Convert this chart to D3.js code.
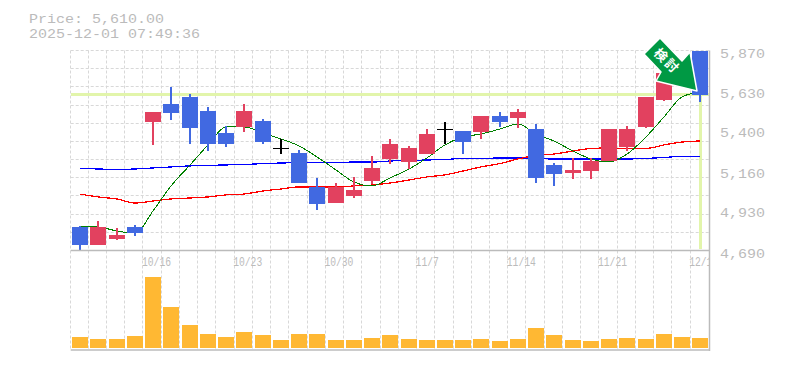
<!DOCTYPE html>
<html>
<head>
<meta charset="utf-8">
<script src="https://cdn.jsdelivr.net/npm/d3@7"></script>
<style>
  html, body { margin: 0; padding: 0; background: #fff; }
  svg { display: block; }
  text { font-family: "Liberation Mono", monospace; fill: #bbb; }
</style>
</head>
<body>
<script>
// values
const priceText = 'Price: 5,610.00';
const timeText = '2025-12-01 07:49:36';
const lastPrice = 5610;
const arrowText = '検討';

const priceTicks = [5870, 5630, 5400, 5160, 4930, 4690];
const dateTicks = [[4, '10/16'], [9, '10/23'], [14, '10/30'], [19, '11/7'], [24, '11/14'], [29, '11/21'], [34, '12/1']];

const opens = [4829, 4722, 4758, 4829, 5448, 5554, 5596, 5513, 5383, 5419, 5454, 5295, 5265, 5065, 4970, 5012, 5100, 5230, 5212, 5259, 5407, 5395, 5389, 5484, 5472, 5407, 5195, 5147, 5159, 5218, 5301, 5419, 5578, 5672, 5867];
const closes = [4722, 4829, 4782, 4793, 5507, 5501, 5413, 5318, 5318, 5513, 5330, 5295, 5088, 4964, 5065, 5047, 5177, 5318, 5295, 5377, 5407, 5330, 5484, 5448, 5507, 5118, 5141, 5165, 5218, 5407, 5407, 5596, 5737, 5790, 5610];
const highs = [4835, 4864, 4823, 4840, 5507, 5655, 5613, 5537, 5425, 5554, 5466, 5348, 5283, 5118, 5088, 5124, 5248, 5348, 5307, 5407, 5448, 5395, 5484, 5507, 5525, 5436, 5206, 5236, 5236, 5407, 5425, 5596, 5737, 5802, 5870];
const lows = [4689, 4722, 4752, 4776, 5312, 5460, 5318, 5277, 5301, 5389, 5318, 5259, 5088, 4929, 4970, 5000, 5082, 5200, 5171, 5259, 5318, 5259, 5348, 5419, 5413, 5088, 5071, 5112, 5112, 5218, 5277, 5413, 5572, 5672, 5566];

const maShort = [4832, 4829, 4805, 4793, 4923, 5071, 5194, 5313, 5419, 5419, 5383, 5348, 5307, 5242, 5165, 5094, 5071, 5118, 5171, 5236, 5313, 5360, 5377, 5407, 5436, 5377, 5336, 5277, 5230, 5212, 5259, 5360, 5478, 5596, 5625];
const maMid = [5023, 5006, 4994, 4970, 4982, 4994, 5000, 5006, 5018, 5023, 5041, 5053, 5065, 5065, 5065, 5071, 5076, 5088, 5106, 5124, 5136, 5159, 5183, 5203, 5230, 5251, 5259, 5277, 5292, 5295, 5292, 5292, 5313, 5330, 5336];
const maLong = [5174, 5171, 5168, 5171, 5177, 5183, 5189, 5192, 5195, 5197, 5203, 5206, 5209, 5209, 5209, 5212, 5212, 5218, 5221, 5224, 5227, 5233, 5233, 5236, 5236, 5233, 5230, 5230, 5230, 5230, 5230, 5233, 5239, 5245, 5245];

const volumes = [110, 90, 90, 120, 710, 410, 230, 140, 110, 160, 130, 80, 140, 140, 80, 80, 100, 130, 90, 80, 80, 80, 90, 70, 90, 200, 130, 80, 70, 90, 100, 90, 140, 110, 100];

// layout
const WIDTH = 785;
const HEIGHT = 370;
const LEFT = 70.7;
const RIGHT = 709.1;
const PRICE_TOP = 50.5;
const PRICE_BOT = 250.5;
const VOL_TOP = 277;
const VOL_BOT = 348;
const BAR_WIDTH = 16;
const GRID_ROWS = 11;
const CHAR_WIDE = 9;
const CHAR_NARROW = 5.8;

const COLOR_UP = '#e2415f';
const COLOR_DOWN = '#4169e1';
const COLOR_AXIS = '#bbb';
const COLOR_GRID = '#d8d8d8';
const COLOR_LAST = '#e2f5ab';
const COLOR_VOLUME = '#ffb833';

const indexes = d3.range(opens.length);

const xScale = d3.scaleBand().domain(indexes).range([LEFT, RIGHT]);
const yScale = d3.scaleLinear().domain([4690, 5870]).range([PRICE_BOT, PRICE_TOP]);
const volScale = d3.scaleLinear().domain([0, 710]).range([VOL_BOT, VOL_TOP]);

const barLeft = i => Math.round(xScale(i) + 1.5);
const barMid = i => barLeft(i) + BAR_WIDTH / 2;
const gridX = i => Math.floor(xScale(i) - 0.7) + 0.5;

const svg = d3.select('body').append('svg')
    .attr('width', WIDTH)
    .attr('height', HEIGHT);

svg.append('clipPath')
    .attr('id', 'plot-clip')
  .append('rect')
    .attr('x', 0)
    .attr('y', 0)
    .attr('width', 710)
    .attr('height', HEIGHT);

// title lines, stretched to the wide letters of the reference
[[priceText, 23], [timeText, 38]].forEach(t => {
  svg.append('text')
      .attr('x', 29)
      .attr('y', t[1])
      .attr('textLength', t[0].length * CHAR_WIDE)
      .attr('lengthAdjust', 'spacingAndGlyphs')
      .style('font-size', '13px')
      .text(t[0]);
});

// grid
svg.append('g')
    .selectAll('line')
    .data(d3.range(GRID_ROWS))
    .enter()
    .append('line')
      .attr('x1', LEFT)
      .attr('x2', RIGHT)
      .attr('y1', d => Math.floor(PRICE_TOP + d * 200 / GRID_ROWS) + 0.5)
      .attr('y2', d => Math.floor(PRICE_TOP + d * 200 / GRID_ROWS) + 0.5)
      .attr('stroke', COLOR_GRID)
      .attr('stroke-dasharray', '3 2');

svg.append('g')
    .selectAll('line')
    .data(indexes)
    .enter()
    .append('line')
      .attr('x1', gridX)
      .attr('x2', gridX)
      .attr('y1', PRICE_TOP)
      .attr('y2', VOL_BOT + 2)
      .attr('stroke', COLOR_GRID)
      .attr('stroke-dasharray', '3 2');

// price labels on the right
const yAxis = d3.axisRight(yScale)
    .tickValues(priceTicks)
    .tickFormat(d3.format(','))
    .tickSize(0)
    .tickPadding(0);

const yAxisG = svg.append('g')
    .attr('transform', 'translate(720, 0)')
    .call(yAxis);
yAxisG.select('.domain').remove();
yAxisG.selectAll('text')
    .attr('dy', '6.5')
    .attr('textLength', function() { return this.textContent.length * CHAR_WIDE; })
    .attr('lengthAdjust', 'spacingAndGlyphs')
    .style('font-size', '13.5px')
    .style('font-family', '"Liberation Mono", monospace')
    .attr('fill', COLOR_AXIS);

// date labels, start at the grid line of their bar
const xAxis = d3.axisBottom(xScale)
    .tickValues(dateTicks.map(d => d[0]))
    .tickFormat(i => dateTicks.find(d => d[0] === i)[1])
    .tickSize(0)
    .tickPadding(0);

const xAxisG = svg.append('g')
    .attr('clip-path', 'url(#plot-clip)')
    .append('g')
    .attr('transform', `translate(0, ${PRICE_BOT})`)
    .call(xAxis);
xAxisG.select('.domain').remove();
xAxisG.selectAll('text')
    .attr('x', -10.8)
    .attr('y', 15.5)
    .attr('dy', 0)
    .attr('text-anchor', 'start')
    .attr('textLength', function() { return this.textContent.length * CHAR_NARROW; })
    .attr('lengthAdjust', 'spacingAndGlyphs')
    .style('font-size', '12px')
    .style('font-family', '"Liberation Mono", monospace')
    .attr('fill', COLOR_AXIS);

// last price marker
svg.append('line')
    .attr('x1', LEFT)
    .attr('x2', RIGHT)
    .attr('y1', yScale(lastPrice))
    .attr('y2', yScale(lastPrice))
    .attr('stroke', COLOR_LAST)
    .attr('stroke-width', 3)
    .attr('shape-rendering', 'crispEdges');

svg.append('line')
    .attr('x1', barMid(34))
    .attr('x2', barMid(34))
    .attr('y1', yScale(lastPrice))
    .attr('y2', PRICE_BOT - 2)
    .attr('stroke', COLOR_LAST)
    .attr('stroke-width', 3)
    .attr('shape-rendering', 'crispEdges');

// moving averages sit under the candles
const maLine = d3.line()
    .x((d, i) => barMid(i))
    .y(d => yScale(d))
    .curve(d3.curveMonotoneX);

[[maLong, '#0000ff', 1.25], [maMid, '#ff0000', 1.25], [maShort, '#008000', 1]].forEach(m => {
  svg.append('path')
      .attr('d', maLine(m[0]))
      .attr('fill', 'none')
      .attr('stroke', m[1])
      .attr('stroke-width', m[2])
      .attr('shape-rendering', 'crispEdges');
});

// candles
const candleColor = i => closes[i] === opens[i] ? '#000'
    : closes[i] > opens[i] ? COLOR_UP : COLOR_DOWN;

svg.append('g')
    .selectAll('line')
    .data(indexes)
    .enter()
    .append('line')
      .attr('x1', barMid)
      .attr('x2', barMid)
      .attr('y1', i => yScale(highs[i]))
      .attr('y2', i => yScale(lows[i]))
      .attr('stroke', candleColor)
      .attr('stroke-width', 1.5)
      .attr('shape-rendering', 'crispEdges');

svg.append('g')
    .selectAll('rect')
    .data(indexes)
    .enter()
    .append('rect')
      .attr('x', barLeft)
      .attr('y', i => yScale(Math.max(opens[i], closes[i])))
      .attr('width', BAR_WIDTH)
      .attr('height', i => Math.max(1.5, Math.abs(yScale(opens[i]) - yScale(closes[i]))))
      .attr('fill', candleColor)
      .attr('shape-rendering', 'crispEdges');

// volume
svg.append('g')
    .selectAll('rect')
    .data(indexes)
    .enter()
    .append('rect')
      .attr('x', barLeft)
      .attr('y', i => volScale(volumes[i]))
      .attr('width', BAR_WIDTH)
      .attr('height', i => VOL_BOT - volScale(volumes[i]))
      .attr('fill', COLOR_VOLUME);

// solid axis lines
const axisLines = [
  [LEFT, PRICE_BOT, 710, PRICE_BOT],
  [LEFT, VOL_BOT + 2, 710, VOL_BOT + 2],
  [709.5, PRICE_TOP, 709.5, VOL_BOT + 3]
];
svg.append('g')
    .selectAll('line')
    .data(axisLines)
    .enter()
    .append('line')
      .attr('x1', d => d[0])
      .attr('y1', d => d[1])
      .attr('x2', d => d[2])
      .attr('y2', d => d[3])
      .attr('stroke', COLOR_AXIS)
      .attr('stroke-width', 1.5);

// signal arrow over the last bars
const arrowPoints = [[660, 38], [682, 61], [690, 52], [697, 91], [656, 81], [661, 72], [644, 54]];
svg.append('polygon')
    .attr('points', arrowPoints.join(' '))
    .attr('fill', '#009944')
    .attr('stroke', '#fff')
    .attr('stroke-width', 1.5)
    .attr('stroke-linejoin', 'round');

svg.append('text')
    .attr('transform', 'translate(667, 61) rotate(45)')
    .attr('text-anchor', 'middle')
    .attr('dy', '0.36em')
    .style('font-family', '"Noto Sans CJK JP", sans-serif')
    .style('font-size', '13px')
    .style('font-weight', 'bold')
    .style('letter-spacing', '2px')
    .style('fill', '#fff')
    .text(arrowText);
</script>
</body>
</html>
